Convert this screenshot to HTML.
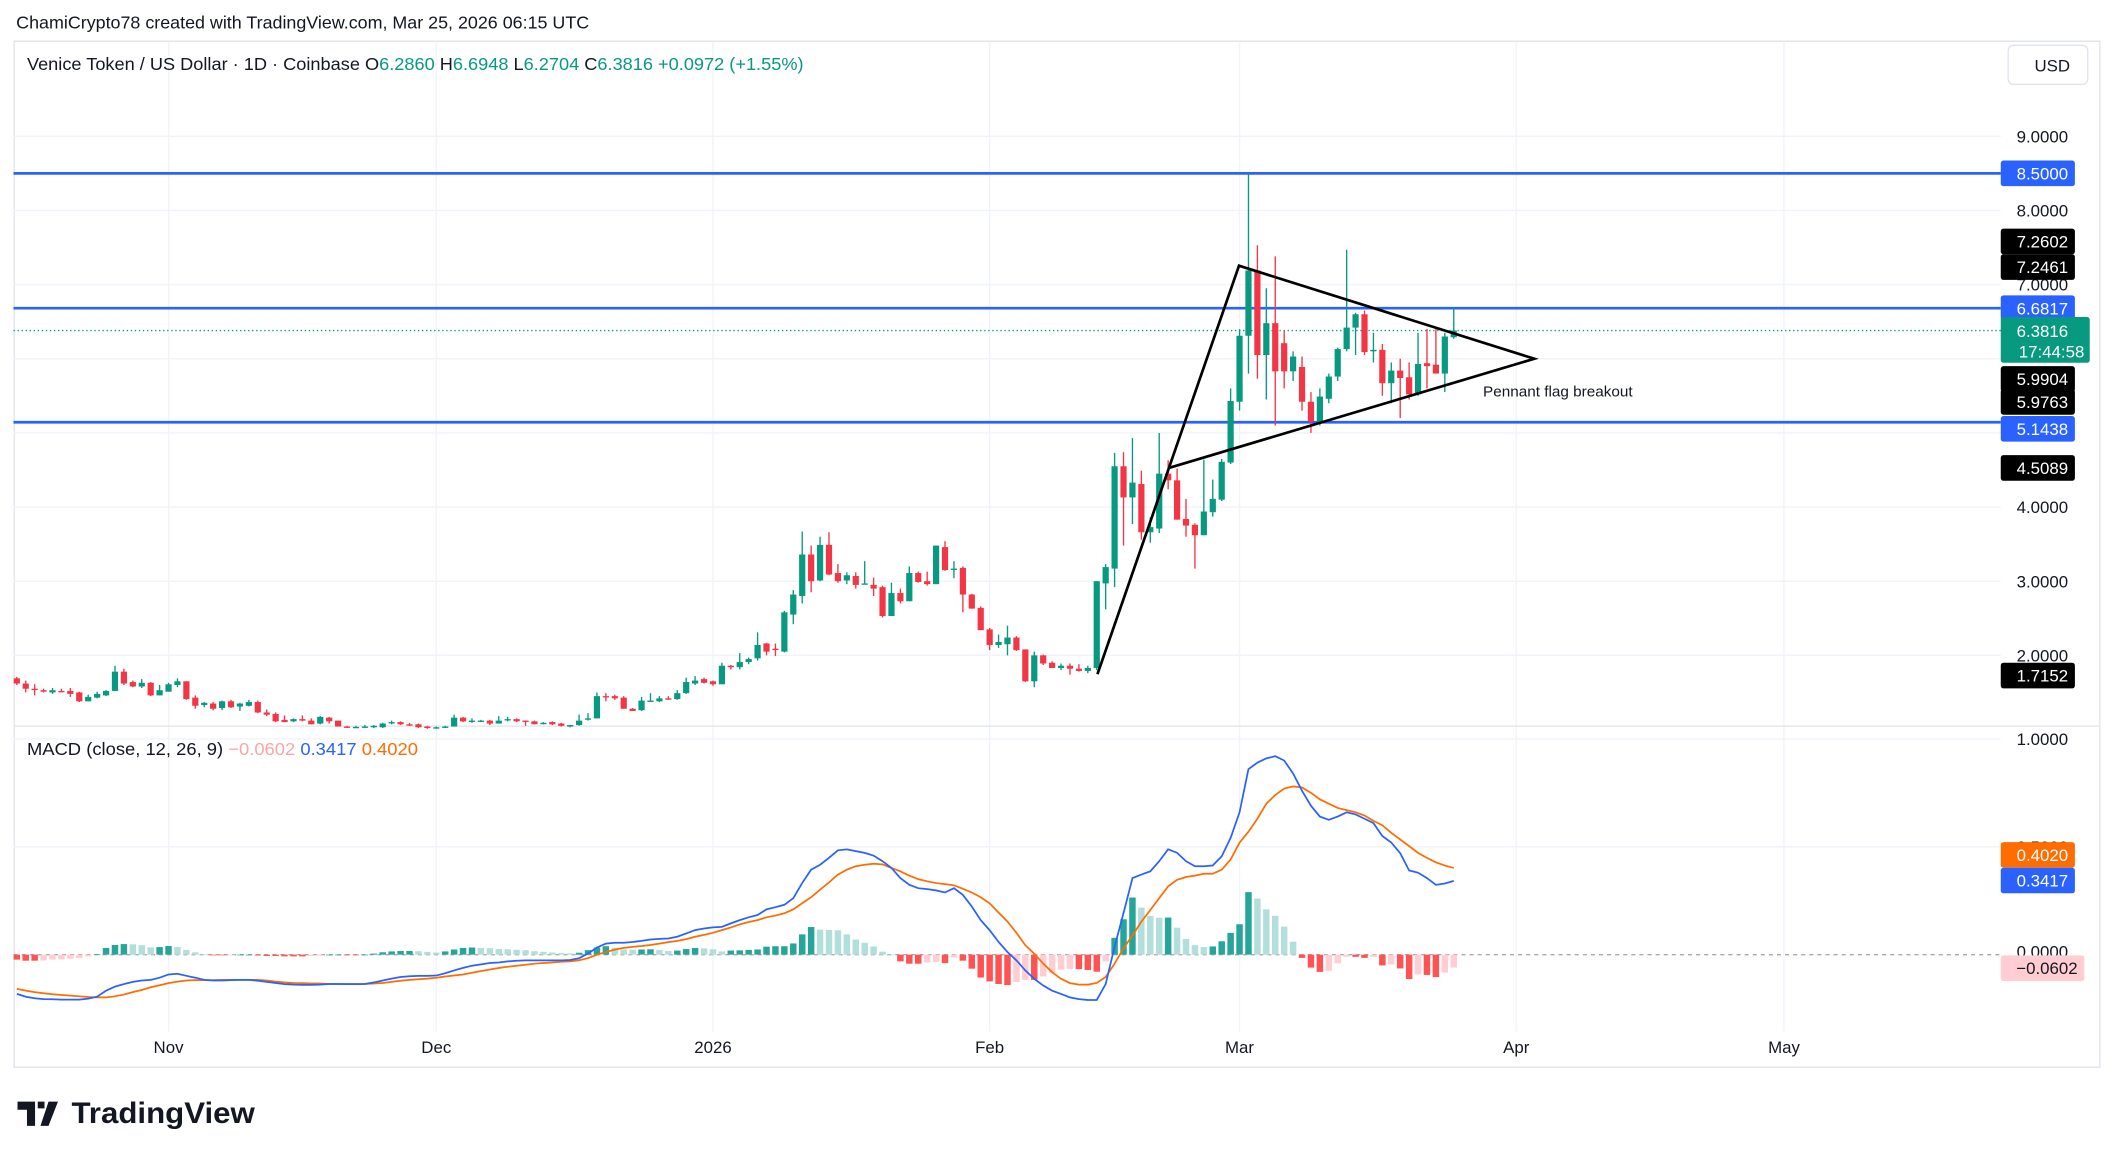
<!DOCTYPE html>
<html><head><meta charset="utf-8"><style>
html,body{margin:0;padding:0;background:#fff;}
svg{display:block;font-family:"Liberation Sans",sans-serif;}
</style></head><body>
<svg id="chart" width="2114" height="1157" viewBox="0 0 1568 858" xmlns="http://www.w3.org/2000/svg">
<rect width="1568" height="858" fill="#fff"/>
<text x="12" y="21" font-size="13.2" fill="#131722" textLength="425" lengthAdjust="spacingAndGlyphs">ChamiCrypto78 created with TradingView.com, Mar 25, 2026 06:15 UTC</text>
<rect x="10.5" y="30.5" width="1547" height="761" fill="none" stroke="#e0e3eb"/>
<g id="grid"></g>
<line x1="10" y1="538.5" x2="1557" y2="538.5" stroke="#e0e3eb"/>
<g id="levels"></g>
<g id="candles"></g>
<g id="pennant">
<polyline points="814,500 919,197 1138,266 867,347" fill="none" stroke="#000" stroke-width="2" stroke-linejoin="miter"/>
</g>
<text x="1100" y="294" font-size="11" fill="#131722" textLength="111" lengthAdjust="spacingAndGlyphs">Pennant flag breakout</text>
<g id="macd"></g>
<g id="axis"></g>
<text x="20" y="52" font-size="13" fill="#131722" textLength="576" lengthAdjust="spacingAndGlyphs">Venice Token / US Dollar · 1D · Coinbase  <tspan fill="#131722">O</tspan><tspan fill="#089981">6.2860</tspan> <tspan fill="#131722">H</tspan><tspan fill="#089981">6.6948</tspan> <tspan fill="#131722">L</tspan><tspan fill="#089981">6.2704</tspan> <tspan fill="#131722">C</tspan><tspan fill="#089981">6.3816 +0.0972 (+1.55%)</tspan></text>
<text x="20" y="560" font-size="13" fill="#131722" textLength="290" lengthAdjust="spacingAndGlyphs">MACD (close, 12, 26, 9)  <tspan fill="#f7a7a5">−0.0602</tspan>  <tspan fill="#2962ff">0.3417</tspan>  <tspan fill="#ff6d00">0.4020</tspan></text>
<g>
<rect x="1489.5" y="33.5" width="59" height="29" rx="4" fill="#fff" stroke="#e0e3eb"/>
<text x="1509" y="53" font-size="12.5" fill="#131722">USD</text>
</g>
<g>
<path d="M13 817h13v18h-6v-12h-7z M28 817h5v5h-5z M36 817h7l-7 18h-6z" fill="#131722"/>
<text x="53" y="833" font-size="22" font-weight="bold" fill="#131722" textLength="136" lengthAdjust="spacingAndGlyphs">TradingView</text>
</g>
</svg>
<script>
const opens=[1.69,1.62,1.55,1.53,1.50,1.52,1.52,1.50,1.38,1.43,1.46,1.52,1.78,1.64,1.58,1.63,1.46,1.51,1.60,1.65,1.43,1.33,1.35,1.29,1.38,1.31,1.32,1.37,1.23,1.21,1.13,1.11,1.14,1.12,1.08,1.16,1.12,1.04,1.03,1.04,1.03,1.03,1.09,1.10,1.07,1.07,1.04,1.02,1.03,1.04,1.16,1.11,1.11,1.12,1.08,1.13,1.14,1.12,1.11,1.08,1.10,1.08,1.04,1.06,1.14,1.15,1.45,1.45,1.43,1.28,1.26,1.38,1.38,1.42,1.41,1.49,1.62,1.68,1.65,1.61,1.86,1.84,1.91,1.96,2.16,2.09,2.05,2.55,2.80,3.36,3.01,3.49,3.11,3.01,3.07,2.96,2.95,2.92,2.53,2.84,2.73,3.11,3.00,2.96,3.46,3.16,3.18,2.82,2.64,2.35,2.14,2.15,2.24,2.08,1.65,2.00,1.90,1.83,1.86,1.82,1.79,1.83,2.97,3.17,4.55,4.13,4.31,3.66,3.71,4.45,4.36,3.84,3.76,3.62,3.93,4.10,4.60,5.42,6.31,7.19,6.05,6.48,6.21,5.83,5.89,5.42,5.15,5.46,5.76,6.13,6.42,6.60,6.10,6.12,5.67,5.84,5.75,5.52,5.94,5.92,5.80,6.29];
const highs=[1.71,1.66,1.61,1.55,1.56,1.55,1.56,1.51,1.47,1.51,1.53,1.86,1.82,1.66,1.68,1.64,1.60,1.63,1.69,1.65,1.46,1.37,1.37,1.39,1.40,1.36,1.40,1.39,1.27,1.23,1.19,1.15,1.19,1.15,1.18,1.17,1.12,1.05,1.05,1.06,1.06,1.09,1.12,1.11,1.09,1.08,1.05,1.04,1.05,1.20,1.17,1.15,1.13,1.13,1.18,1.17,1.15,1.12,1.12,1.10,1.11,1.09,1.06,1.20,1.22,1.50,1.49,1.47,1.45,1.29,1.44,1.49,1.45,1.45,1.53,1.70,1.72,1.70,1.66,1.90,1.87,2.03,1.97,2.31,2.17,2.16,2.60,2.88,3.67,3.48,3.60,3.66,3.23,3.12,3.12,3.27,3.05,2.94,2.98,2.90,3.20,3.13,3.13,3.48,3.54,3.27,3.20,2.83,2.66,2.37,2.28,2.40,2.26,2.08,2.05,2.01,1.92,1.89,1.89,1.88,1.86,3.00,3.23,4.73,4.74,4.93,4.49,3.86,5.00,4.63,4.52,4.11,3.78,4.64,4.37,4.65,5.60,6.40,8.50,7.53,6.95,7.38,6.38,6.10,6.03,5.55,5.60,5.80,6.15,7.47,6.62,6.65,6.35,6.20,5.95,6.00,5.95,6.35,6.40,6.40,6.35,6.69];
const lows=[1.60,1.50,1.46,1.50,1.48,1.50,1.44,1.37,1.38,1.42,1.45,1.52,1.60,1.57,1.56,1.45,1.46,1.51,1.57,1.40,1.28,1.30,1.26,1.26,1.29,1.25,1.31,1.22,1.18,1.10,1.10,1.10,1.11,1.07,1.07,1.08,1.04,1.02,1.02,1.02,1.02,1.02,1.07,1.06,1.05,1.02,1.01,1.01,1.02,1.04,1.10,1.09,1.10,1.06,1.08,1.11,1.10,1.05,1.07,1.07,1.06,1.04,1.03,1.05,1.12,1.15,1.38,1.40,1.28,1.25,1.25,1.37,1.37,1.40,1.40,1.48,1.60,1.62,1.59,1.61,1.81,1.81,1.88,1.93,2.00,1.99,2.04,2.42,2.70,2.85,3.00,3.08,2.98,2.96,2.90,2.96,2.80,2.51,2.53,2.70,2.73,2.98,2.94,2.96,3.14,3.04,2.58,2.63,2.34,2.07,2.10,2.00,2.06,1.64,1.57,1.87,1.83,1.80,1.74,1.78,1.76,1.80,2.62,2.92,3.48,3.77,3.56,3.52,3.65,4.24,3.83,3.60,3.17,3.62,3.87,4.08,4.58,5.30,5.80,5.73,5.45,5.10,5.60,5.70,5.30,5.00,5.10,5.40,5.70,6.10,6.05,6.05,5.95,5.50,5.40,5.20,5.45,5.50,5.60,5.80,5.55,6.27];
const closes=[1.62,1.55,1.54,1.51,1.53,1.51,1.48,1.38,1.44,1.48,1.52,1.78,1.62,1.58,1.63,1.46,1.53,1.61,1.65,1.41,1.32,1.36,1.28,1.38,1.30,1.35,1.37,1.23,1.20,1.11,1.10,1.14,1.12,1.07,1.17,1.11,1.04,1.03,1.035,1.04,1.05,1.08,1.10,1.07,1.06,1.03,1.02,1.03,1.04,1.16,1.11,1.12,1.12,1.08,1.12,1.14,1.11,1.11,1.07,1.09,1.07,1.05,1.06,1.12,1.15,1.45,1.44,1.42,1.28,1.25,1.39,1.39,1.42,1.41,1.49,1.64,1.66,1.63,1.61,1.86,1.84,1.91,1.95,2.14,2.05,2.08,2.58,2.82,3.36,3.00,3.49,3.09,3.00,3.08,2.95,2.97,2.90,2.53,2.84,2.73,3.11,2.99,2.96,3.48,3.15,3.17,2.82,2.63,2.34,2.14,2.18,2.24,2.07,1.65,2.00,1.89,1.83,1.86,1.82,1.79,1.83,3.00,3.19,4.55,4.13,4.33,3.66,3.73,4.45,4.36,3.83,3.75,3.62,3.94,4.11,4.61,5.43,6.31,7.19,6.05,6.48,5.83,5.83,6.03,5.42,5.15,5.49,5.76,6.13,6.42,6.60,6.09,6.12,5.67,5.84,5.74,5.52,5.93,5.90,5.80,6.30,6.38];
const macdLine=[-0.182,-0.195,-0.202,-0.206,-0.207,-0.209,-0.209,-0.209,-0.204,-0.195,-0.167,-0.148,-0.136,-0.126,-0.120,-0.117,-0.107,-0.092,-0.089,-0.098,-0.107,-0.117,-0.120,-0.120,-0.118,-0.117,-0.117,-0.121,-0.126,-0.131,-0.137,-0.139,-0.140,-0.140,-0.139,-0.136,-0.136,-0.137,-0.137,-0.136,-0.129,-0.120,-0.111,-0.104,-0.100,-0.098,-0.098,-0.097,-0.086,-0.073,-0.061,-0.051,-0.045,-0.039,-0.036,-0.031,-0.028,-0.026,-0.026,-0.026,-0.026,-0.026,-0.025,-0.017,0.005,0.033,0.051,0.055,0.055,0.059,0.064,0.070,0.073,0.075,0.083,0.098,0.114,0.121,0.126,0.129,0.145,0.160,0.173,0.184,0.210,0.220,0.231,0.262,0.332,0.394,0.417,0.449,0.484,0.488,0.480,0.472,0.459,0.433,0.402,0.355,0.324,0.308,0.304,0.298,0.288,0.308,0.277,0.223,0.160,0.114,0.059,0.012,-0.026,-0.073,-0.112,-0.143,-0.167,-0.182,-0.198,-0.206,-0.210,-0.210,-0.136,0.036,0.192,0.355,0.371,0.386,0.433,0.488,0.472,0.433,0.410,0.410,0.413,0.456,0.542,0.66,0.86,0.89,0.91,0.92,0.90,0.84,0.76,0.69,0.64,0.625,0.64,0.66,0.65,0.63,0.61,0.55,0.52,0.47,0.39,0.38,0.355,0.324,0.33,0.342];
const signalLine=[-0.159,-0.167,-0.174,-0.179,-0.184,-0.187,-0.190,-0.193,-0.196,-0.198,-0.198,-0.193,-0.185,-0.174,-0.164,-0.151,-0.142,-0.132,-0.125,-0.120,-0.118,-0.118,-0.118,-0.117,-0.117,-0.117,-0.117,-0.117,-0.120,-0.125,-0.129,-0.131,-0.132,-0.134,-0.134,-0.136,-0.136,-0.136,-0.136,-0.136,-0.134,-0.131,-0.126,-0.121,-0.117,-0.114,-0.111,-0.107,-0.101,-0.097,-0.092,-0.084,-0.076,-0.069,-0.062,-0.056,-0.051,-0.047,-0.042,-0.039,-0.036,-0.033,-0.031,-0.026,-0.016,0.000,0.012,0.023,0.031,0.036,0.040,0.045,0.051,0.058,0.064,0.072,0.083,0.092,0.101,0.114,0.126,0.140,0.151,0.160,0.173,0.181,0.192,0.210,0.238,0.266,0.301,0.335,0.371,0.394,0.410,0.417,0.421,0.419,0.402,0.386,0.366,0.350,0.340,0.332,0.327,0.321,0.305,0.288,0.266,0.238,0.195,0.153,0.101,0.044,0.005,-0.042,-0.081,-0.112,-0.132,-0.139,-0.139,-0.131,-0.104,-0.042,0.028,0.090,0.153,0.207,0.262,0.316,0.347,0.360,0.366,0.375,0.375,0.394,0.441,0.519,0.57,0.63,0.70,0.74,0.77,0.78,0.775,0.75,0.72,0.70,0.68,0.67,0.66,0.645,0.62,0.60,0.565,0.534,0.503,0.472,0.449,0.428,0.413,0.402];
const priceTicks=[9,8,7,6,5,4,3,2];
const priceTickLabels=["9.0000","8.0000","7.0000","","","4.0000","3.0000","2.0000"];
const macdTicks=[1,0.5];
const macdTickLabels=["1.0000","0.5000"];
const monthLabels=["Nov","Dec","2026","Feb","Mar","Apr","May"];
const monthDays=[0,30,61,92,120,151,181];
const levelValues=[8.5,6.6817,5.1438];
const firstDay=-17;

const NS="http://www.w3.org/2000/svg";
function mk(tag,attrs,parent){const e=document.createElementNS(NS,tag);for(const k in attrs)e.setAttribute(k,attrs[k]);parent.appendChild(e);return e;}
const xDay=d=>125+6.62*d;
const xIdx=i=>xDay(firstDay+i);
const yP=p=>596-55*p;
const yM=m=>708-160*m;
const grid=document.getElementById('grid');
priceTicks.forEach(p=>{const l=mk('line',{x1:10,x2:1484,y1:yP(p),y2:yP(p),stroke:'#f0f3fa'},grid);

});
macdTicks.forEach(m=>{const l=mk('line',{x1:10,x2:1484,y1:yM(m),y2:yM(m),stroke:'#f0f3fa'},grid);

});
monthDays.forEach(d=>{const l=mk('line',{x1:xDay(d),x2:xDay(d),y1:31,y2:765,stroke:'#f0f3fa'},grid);

});
const lv=document.getElementById('levels');
levelValues.forEach(v=>{const l=mk('line',{x1:10,x2:1484,y1:yP(v),y2:yP(v),stroke:'#2962ff','stroke-width':2},lv);

});
const lastClose=closes[closes.length-1];
const cl=mk('line',{x1:10,x2:1484,y1:yP(lastClose),y2:yP(lastClose),stroke:'#089981','stroke-dasharray':'1,2'},lv);


const cg=document.getElementById('candles');
const bw=4.6;
for(let i=0;i<opens.length;i++){
 const up=closes[i]>=opens[i];const col=up?'#089981':'#f23645';const x=xIdx(i);
 const g=mk('g',{},cg);
 
 
 mk('line',{x1:x,x2:x,y1:yP(highs[i]),y2:yP(lows[i]),stroke:col,'stroke-width':1},g);
 const t=yP(Math.max(opens[i],closes[i])),b=yP(Math.min(opens[i],closes[i]));
 mk('rect',{x:x-bw/2,y:t,width:bw,height:Math.max(1,b-t),fill:col},g);
}
const mg=document.getElementById('macd');
const z=mk('line',{x1:10,x2:1484,y1:yM(0),y2:yM(0),stroke:'#aaa','stroke-dasharray':'3,3'},mg);


let prev=0;
for(let i=0;i<macdLine.length;i++){
 const h=macdLine[i]-signalLine[i];const x=xIdx(i);
 let col;if(h>=0)col=h>=prev?'#26a69a':'#b2dfdb';else col=h<=prev?'#ff5252':'#ffcdd2';
 prev=h;
 const r=mk('rect',{x:x-2.4,y:Math.min(yM(0),yM(h)),width:4.8,height:Math.max(0.5,Math.abs(yM(h)-yM(0))),fill:col},mg);
 
 
}
function line(arr,col,name){const pts=arr.map((v,i)=>xIdx(i).toFixed(1)+','+yM(v).toFixed(1)).join(' ');
 const p=mk('polyline',{points:pts,fill:'none',stroke:col,'stroke-width':1.3},mg);
 
 }
line(signalLine,'#ff6d00','signal-line');
line(macdLine,'#2962ff','macd-line');
const ax=document.getElementById('axis');
priceTicks.forEach((p,k)=>{if(!priceTickLabels[k])return;const t=mk('text',{x:1534,y:yP(p)+4.5,'font-size':12.5,'text-anchor':'end',fill:'#131722'},ax);t.textContent=priceTickLabels[k];
 
 });
macdTicks.forEach((m,k)=>{const t=mk('text',{x:1534,y:yM(m)+4.5,'font-size':12.5,'text-anchor':'end',fill:'#131722'},ax);t.textContent=macdTickLabels[k];
 
 });
const t0=mk('text',{x:1534,y:yM(0)+2,'font-size':12.5,'text-anchor':'end',fill:'#131722'},ax);t0.textContent='0.0000';


monthLabels.forEach((m,k)=>{const t=mk('text',{x:xDay(monthDays[k]),y:781,'font-size':12.5,'text-anchor':'middle',fill:'#131722'},ax);t.textContent=m;
 
 });
const badges=[[yP(8.5),'8.5000','#2962ff','#fff'],[179,'7.2602','#000','#fff'],[198,'7.2461','#000','#fff'],[yP(6.6817),'6.6817','#2962ff','#fff'],[281,'5.9904','#000','#fff'],[298,'5.9763','#000','#fff'],[318,'5.1438','#2962ff','#fff'],[347,'4.5089','#000','#fff'],[501,'1.7152','#000','#fff'],[634,'0.4020','#ff6d00','#fff'],[653,'0.3417','#2962ff','#fff'],[718,'−0.0602','#ffcdd2','#131722']];
badges.forEach(b=>{const g=mk('g',{},ax);
 
 
 const w=b[1].length>6?62:55;
 mk('rect',{x:1484,y:b[0]-9.5,width:w,height:19,rx:2,fill:b[2]},g);
 const t=mk('text',{x:1484+w-5,y:b[0]+4.5,'font-size':12.5,'text-anchor':'end',fill:b[3]},g);t.textContent=b[1];});
const cb=mk('g',{},ax);


mk('rect',{x:1484,y:235,width:66,height:34,rx:2,fill:'#089981'},cb);
const c1=mk('text',{x:1534,y:250,'font-size':12.5,'text-anchor':'end',fill:'#fff'},cb);c1.textContent='6.3816';
const c2=mk('text',{x:1546,y:265,'font-size':12.5,'text-anchor':'end',fill:'#fff'},cb);c2.textContent='17:44:58';
</script>
</body></html>
